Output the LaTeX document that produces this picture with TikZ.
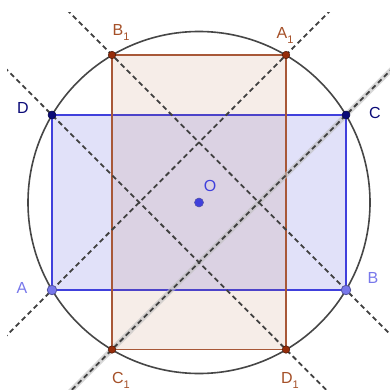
\documentclass[tikz,border=0pt]{standalone}
\usepackage{fontspec}
\setmainfont{Liberation Sans}
\usetikzlibrary{calc}
\definecolor{bline}{RGB}{64,64,220}
\definecolor{bfill}{RGB}{60,60,220}
\definecolor{rline}{RGB}{168,88,56}
\definecolor{rfill}{RGB}{175,95,50}
\definecolor{navy}{RGB}{10,10,120}
\definecolor{lightb}{RGB}{120,120,235}
\definecolor{brownpt}{RGB}{150,45,10}
\definecolor{brownlab}{RGB}{165,80,40}
\definecolor{circ}{RGB}{70,70,70}
\newcommand{\sub}[1]{{\fontsize{11}{11}\selectfont\raisebox{-5pt}{#1}}}
\tikzset{
  dline/.style={draw=black!75, line width=1.8pt, dash pattern=on 5pt off 3.5pt},
  hline/.style={draw=black!25, line width=5pt, opacity=0.6},
  bluerect/.style={draw=bline, line width=1.6pt, fill=bfill, fill opacity=0.15},
  brownrect/.style={draw=rline, line width=1.5pt, fill=rfill, fill opacity=0.11},
  darkpt/.style={circle, fill=navy, draw=navy!60!black, line width=0.5pt, inner sep=0pt, minimum size=8pt},
  lightpt/.style={circle, fill=lightb, draw=navy!70, line width=0.8pt, inner sep=0pt, minimum size=9.5pt},
  brpt/.style={circle, fill=brownpt, draw=brownpt!50!black, line width=0.5pt, inner sep=0pt, minimum size=7.5pt},
  opt/.style={circle, fill=bline, draw=navy!70, line width=0.5pt, inner sep=0pt, minimum size=9pt},
  lab/.style={font=\fontsize{16}{16}\selectfont, inner sep=0pt}
}
\begin{document}
\begin{tikzpicture}[x=1pt,y=-1pt]
\useasboundingbox (0,0) rectangle (390,390);
\fill[white] (0,0) rectangle (390,390);
\coordinate (A) at (52,290);
\coordinate (B) at (346,290);
\coordinate (C) at (346,115);
\coordinate (D) at (52,115);
\coordinate (A1) at (286,55);
\coordinate (B1) at (112,55);
\coordinate (C1) at (112,349.5);
\coordinate (D1) at (286,349.5);
\coordinate (O) at (199,202.5);
% fills
\path[bluerect] (A) -- (B) -- (C) -- (D) -- cycle;
\path[brownrect] (A1) -- (B1) -- (C1) -- (D1) -- cycle;
% circle
\draw[circ, line width=1.6pt] (O) circle (171);
% dashed lines
\begin{scope}
\clip (7,13) rectangle (390,390);
\draw[hline] ($(C)!-3!(C1)$) -- ($(C1)!-3!(C)$);
\draw[dline] ($(C)!-3!(C1)$) -- ($(C1)!-3!(C)$);
\draw[dline] ($(A)!-3!(A1)$) -- ($(A1)!-3!(A)$);
\draw[dline] ($(B)!-3!(B1)$) -- ($(B1)!-3!(B)$);
\draw[dline] ($(D)!-3!(D1)$) -- ($(D1)!-3!(D)$);
\end{scope}
% points
\node[darkpt] (pD) at (D) {};
\node[darkpt] (pC) at (C) {};
\node[lightpt] (pA) at (A) {};
\node[lightpt] (pB) at (B) {};
\node[brpt] (pA1) at (A1) {};
\node[brpt] (pB1) at (B1) {};
\node[brpt] (pC1) at (C1) {};
\node[brpt] (pD1) at (D1) {};
\node[opt] (pO) at (O) {};
% labels
\node[lab, text=navy] (lD) at (23,108) {D};
\node[lab, text=navy] (lC) at (375,113) {C};
\node[lab, text=lightb] (lA) at (22,288) {A};
\node[lab, text=lightb] (lB) at (373,278) {B};
\node[lab, text=brownlab] (lB1) at (121,32) {B\sub{1}};
\node[lab, text=brownlab] (lA1) at (285,35) {A\sub{1}};
\node[lab, text=brownlab] (lC1) at (121,380) {C\sub{1}};
\node[lab, text=brownlab] (lD1) at (290,380) {D\sub{1}};
\node[lab, text=bline] (lO) at (210,186) {O};
\end{tikzpicture}
\end{document}
